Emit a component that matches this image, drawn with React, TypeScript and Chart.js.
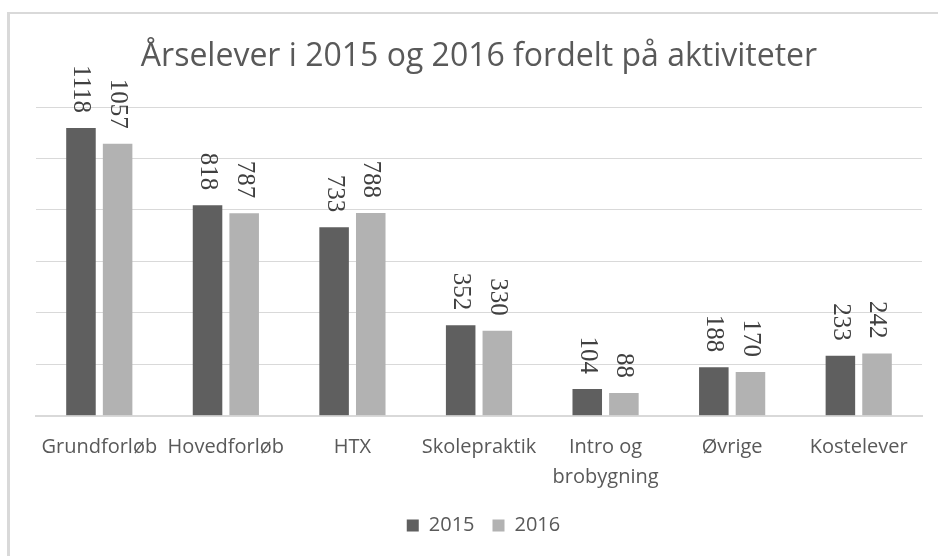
import React, { useEffect, useRef } from 'react';
import { Chart, registerables } from 'chart.js';

Chart.register(...registerables);

const categories = ['Grundforløb', 'Hovedforløb', 'HTX', 'Skolepraktik', 'Intro og\nbrobygning', 'Øvrige', 'Kostelever'];
const seriesNames = ['2015', '2016'];
const values2015 = [1118, 818, 733, 352, 104, 188, 233];
const values2016 = [1057, 787, 788, 330, 88, 170, 242];
const colors = ['#5f5f5f', '#b2b2b2'];
const yMin = 0;
const yMax = 1200;
const yStep = 200;

const titleText = 'Årselever i 2015 og 2016 fordelt på aktiviteter';

const valueLabels = {
  id: 'valueLabels',
  afterDatasetsDraw(chart: any) {
    const ctx = chart.ctx;
    ctx.save();
    ctx.font = '25px "Liberation Serif"';
    ctx.fillStyle = '#404040';
    ctx.textAlign = 'right';
    ctx.textBaseline = 'middle';
    chart.data.datasets.forEach((ds: any, di: number) => {
      const meta = chart.getDatasetMeta(di);
      meta.data.forEach((bar: any, i: number) => {
        const { x, y } = bar.getProps(['x', 'y'], true);
        ctx.save();
        ctx.translate(x, y - 15);
        ctx.rotate(Math.PI / 2);
        ctx.fillText(String(ds.data[i]), 0, 0);
        ctx.restore();
      });
    });
    ctx.restore();
  },
};

const legendShift = {
  id: 'legendShift',
  afterLayout(chart: any) {
    if (chart.legend) {
      chart.legend.left += 4.5;
      chart.legend.right += 4.5;
    }
  },
};

export default function App() {
  const canvasRef = useRef<HTMLCanvasElement | null>(null);

  useEffect(() => {
    if (!canvasRef.current) return;
    const chart = new Chart(canvasRef.current, {
      type: 'bar',
      data: {
        labels: categories.map((c) => (c.includes('\n') ? c.split('\n') : c)),
        datasets: [
          {
            label: seriesNames[0],
            data: values2015,
            backgroundColor: colors[0],
            borderWidth: 0,
            categoryPercentage: 0.579,
            barPercentage: 0.806,
          },
          {
            label: seriesNames[1],
            data: values2016,
            backgroundColor: colors[1],
            borderWidth: 0,
            categoryPercentage: 0.579,
            barPercentage: 0.806,
          },
        ],
      },
      options: {
        responsive: false,
        animation: false,
        layout: { padding: { left: 36, right: 16, top: 12, bottom: 10.5 } },
        plugins: {
          title: {
            display: true,
            text: titleText,
            color: '#595959',
            font: { family: '"Open Sans"', size: 32, weight: 'normal', lineHeight: 1.2 },
            padding: { top: 26, bottom: 30.6 },
          },
          legend: {
            position: 'bottom',
            labels: {
              boxWidth: 12,
              boxHeight: 12,
              padding: 18,
              color: '#595959',
              font: { family: '"Open Sans"', size: 20 },
            },
          },
          tooltip: { enabled: false },
        },
        scales: {
          x: {
            grid: { display: false },
            border: { display: true, color: '#d9d9d9', width: 2 },
            ticks: {
              color: '#595959',
              font: { family: '"Open Sans"', size: 20, lineHeight: 1.5 },
              padding: 9,
              maxRotation: 0,
              autoSkip: false,
            },
            afterFit: (scale: any) => {
              scale.height = 81.8;
            },
          },
          y: {
            min: yMin,
            max: yMax,
            ticks: { display: false, stepSize: yStep },
            grid: { color: '#d9d9d9', lineWidth: 1, drawTicks: false },
            border: { display: false },
            afterFit: (scale: any) => {
              scale.width = 0;
            },
          },
        },
      },
      plugins: [valueLabels, legendShift],
    });
    return () => chart.destroy();
  }, []);

  return (
    <div style={{ position: 'fixed', left: 0, top: 0, width: 938, height: 556, overflow: 'hidden', background: '#ffffff' }}>
      <div
        style={{
          position: 'absolute',
          left: 7,
          top: 12,
          width: 1200,
          height: 1200,
          borderTop: '2px solid #d9d9d9',
          borderLeft: '3px solid #d9d9d9',
          boxSizing: 'border-box',
        }}
      />
      <canvas
        ref={canvasRef}
        width={938}
        height={556}
        style={{ position: 'absolute', left: 0, top: 0, width: 938, height: 556 }}
      />
    </div>
  );
}
